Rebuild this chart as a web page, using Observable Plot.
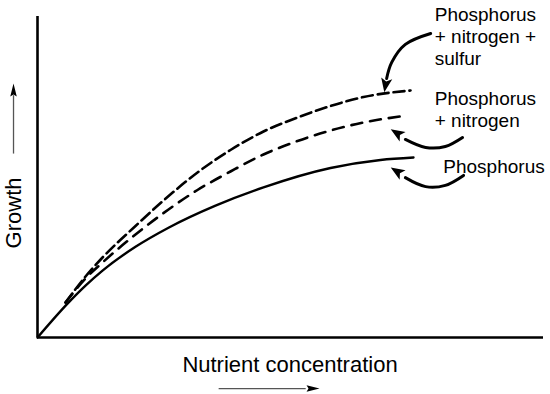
<!DOCTYPE html>
<html>
<head>
<meta charset="utf-8">
<script src="https://cdn.jsdelivr.net/npm/d3@7"></script>
<script src="https://cdn.jsdelivr.net/npm/@observablehq/plot@0.6"></script>
<style>
  html, body { margin: 0; padding: 0; background: #fff; }
  #chart svg { display: block; }
</style>
</head>
<body>
<div id="chart"></div>
<script>
// ---- Data (arbitrary units 0–100) ----
const seriesNames = ["Phosphorus", "Phosphorus + nitrogen", "Phosphorus + nitrogen + sulfur"];

const xPhosphorus = [0, 5.93, 9.49, 12.85, 19.37, 25.89, 35.18, 44.66, 57.91, 67.79, 74.31];
const yPhosphorus = [0, 10.56, 16.17, 20.84, 28.26, 34.21, 41.09, 46.76, 52.80, 55.30, 56.07];

const xPN = [5.53, 9.49, 12.85, 19.37, 25.89, 31.62, 38.14, 44.66, 51.38, 57.91, 64.43, 73.12];
const yPN = [10.90, 18.38, 23.36, 32.09, 39.88, 45.95, 51.71, 57.01, 61.21, 64.49, 66.98, 69.16];

const xPNS = [5.53, 9.49, 12.85, 19.37, 24.90, 31.62, 38.14, 44.66, 51.38, 57.91, 64.43, 73.72];
const yPNS = [10.90, 19.00, 24.92, 34.74, 42.68, 51.40, 58.41, 64.17, 68.54, 72.12, 74.92, 76.95];

const labelTexts = ["Phosphorus", "Phosphorus\n+ nitrogen", "Phosphorus\n+ nitrogen +\nsulfur"];
const xTitle = "Nutrient concentration";
const yTitle = "Growth";

// ---- Build tables ----
const toRows = (name, xs, ys) => xs.map((x, i) => ({series: name, x, y: ys[i]}));
const pRows = toRows(seriesNames[0], xPhosphorus, yPhosphorus);
const pnRows = toRows(seriesNames[1], xPN, yPN);
const pnsRows = toRows(seriesNames[2], xPNS, yPNS);

// annotation layout (label positions & pointer arrows)
const labels = [
  {text: labelTexts[2], x: 78.5, y: 103.4},
  {text: labelTexts[1], x: 78.5, y: 77.2},
  {text: labelTexts[0], x: 80.2, y: 56.0}
];
const pointerPaths = [
  {id: 1, pts: [[77.7, 94.7], [72.7, 91.3], [70.0, 85.7], [69.0, 80.7]]},
  {id: 2, pts: [[84.0, 62.3], [80.6, 59.5], [76.7, 59.2], [72.7, 61.7]]},
  {id: 3, pts: [[84.2, 50.5], [80.6, 47.4], [76.7, 47.0], [72.7, 49.8]]}
].flatMap(d => d.pts.map(([x, y]) => ({id: d.id, x, y})));
const pointerHeads = [
  {x: 68.8, y: 78.8, angle: 190},
  {x: 71.1, y: 63.6, angle: 302},
  {x: 71.1, y: 51.7, angle: 302}
];
const titles = [
  {text: xTitle, x: 49.9, y: -8.7, rotate: 0},
  {text: yTitle, x: -4.74, y: 38.8, rotate: -90}
];

// custom arrowhead symbols
const wideHead = {
  draw(ctx, size) {
    const r = Math.sqrt(size / Math.PI);
    ctx.moveTo(0, -1.1 * r);
    ctx.lineTo(0.8 * r, 0.9 * r);
    ctx.lineTo(0, 0.45 * r);
    ctx.lineTo(-0.8 * r, 0.9 * r);
    ctx.closePath();
  }
};
const narrowHead = {
  draw(ctx, size) {
    const r = Math.sqrt(size / Math.PI);
    ctx.moveTo(0, -1.2 * r);
    ctx.lineTo(0.5 * r, 0.8 * r);
    ctx.lineTo(0, 0.5 * r);
    ctx.lineTo(-0.5 * r, 0.8 * r);
    ctx.closePath();
  }
};

const font = "'Liberation Sans', Arial, Helvetica, sans-serif";

const chart = Plot.plot({
  width: 550,
  height: 394,
  marginLeft: 37,
  marginRight: 7,
  marginTop: 16,
  marginBottom: 57,
  style: {fontFamily: font, background: "#fff", color: "#000", overflow: "visible"},
  x: {domain: [0, 100], axis: null},
  y: {domain: [0, 100], axis: null},
  marks: [
    // axes frame lines
    Plot.ruleX([0], {y1: 0, y2: 100, stroke: "#000", strokeWidth: 2.6}),
    Plot.ruleY([0], {x1: 0, x2: 100, stroke: "#000", strokeWidth: 2.6}),
    // curves
    Plot.line(pRows, {x: "x", y: "y", curve: "monotone-x", stroke: "#000", strokeWidth: 2.4}),
    Plot.line(pnRows, {x: "x", y: "y", curve: "monotone-x", stroke: "#000", strokeWidth: 2.6, strokeDasharray: "11,8"}),
    Plot.line(pnsRows, {x: "x", y: "y", curve: "monotone-x", stroke: "#000", strokeWidth: 2.6, strokeDasharray: "11,5"}),
    // series labels
    Plot.text(labels, {x: "x", y: "y", text: "text", textAnchor: "start", lineAnchor: "top",
      lineHeight: 1.16, fontSize: 19, fill: "#000"}),
    // curved pointers
    Plot.line(pointerPaths, {x: "x", y: "y", z: "id", curve: "catmull-rom", stroke: "#000", strokeWidth: 3}),
    Plot.dot(pointerHeads, {x: "x", y: "y", rotate: "angle", symbol: wideHead, r: 7, fill: "#000", stroke: null}),
    // axis titles
    Plot.text(titles, {x: "x", y: "y", text: "text", rotate: "rotate", fontSize: 22, fill: "#000", lineAnchor: "middle"}),
    // axis direction arrows
    Plot.link([0], {x1: 35.8, x2: 53.0, y1: -15.9, y2: -15.9, stroke: "#555", strokeWidth: 1.3}),
    Plot.dot([0], {x: 54.2, y: -15.9, rotate: 90, symbol: narrowHead, r: 6.5, fill: "#000", stroke: null}),
    Plot.link([0], {x1: -4.74, x2: -4.74, y1: 57.3, y2: 75.5, stroke: "#555", strokeWidth: 1.3}),
    Plot.dot([0], {x: -4.74, y: 76.7, rotate: 0, symbol: narrowHead, r: 6.5, fill: "#000", stroke: null})
  ]
});
document.getElementById("chart").appendChild(chart);
</script>
</body>
</html>
